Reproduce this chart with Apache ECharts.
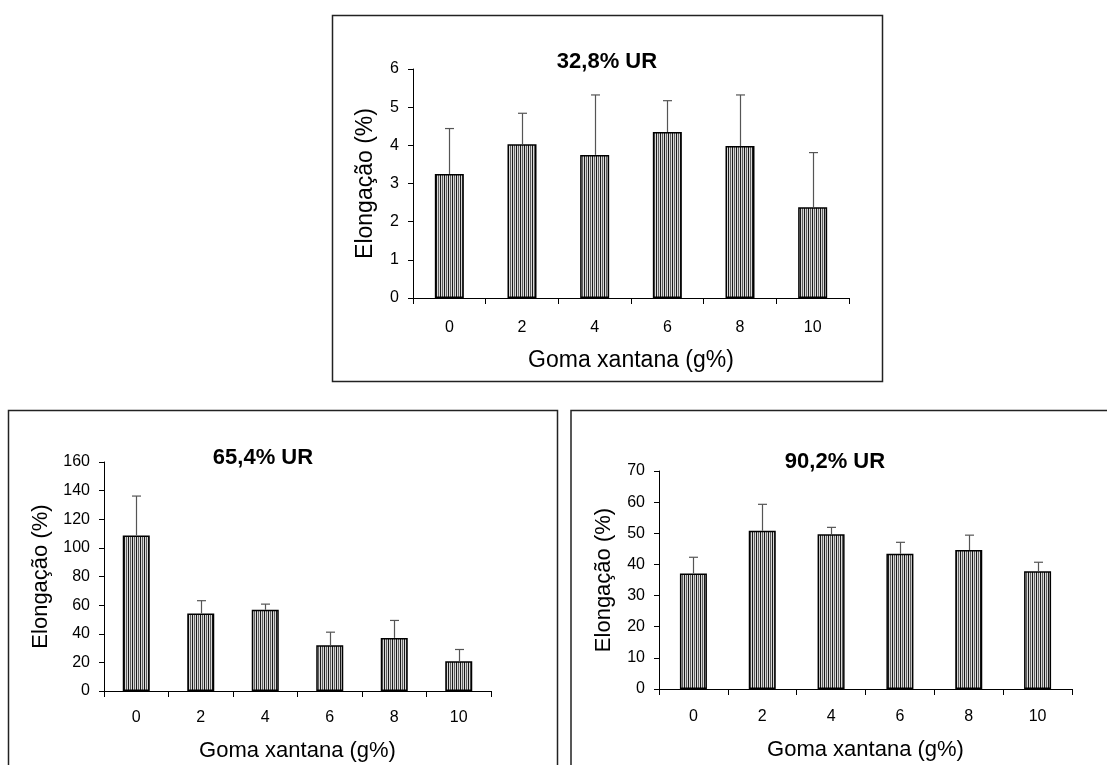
<!DOCTYPE html>
<html>
<head>
<meta charset="utf-8">
<script src="https://cdn.jsdelivr.net/npm/echarts@6/dist/echarts.min.js"></script>
<style>
html,body{margin:0;padding:0;background:#fff;}
#c{width:1107px;height:765px;}
</style>
</head>
<body>
<div id="c"></div>
<script>
// ---- data ----
var categories = ['0', '2', '4', '6', '8', '10'];
var titles = ['32,8% UR', '65,4% UR', '90,2% UR'];
var xName = 'Goma xantana (g%)';
var yName = 'Elongação (%)';
var mean328 = [3.25, 4.03, 3.75, 4.35, 3.98, 2.38];
var sd328   = [1.19, 0.81, 1.57, 0.82, 1.34, 1.43];
var mean654 = [108.6, 54.2, 56.7, 32.0, 37.1, 20.8];
var sd654   = [27.6, 8.9, 4.0, 9.1, 12.2, 8.2];
var mean902 = [37.1, 50.8, 49.7, 43.4, 44.6, 37.8];
var sd902   = [5.2, 8.5, 2.2, 3.7, 4.8, 2.9];
var yMax = [6, 160, 70];
var yStep = [1, 20, 10];

// ---- pattern ----
var pc = document.createElement('canvas');
pc.width = 4; pc.height = 8;
var ctx = pc.getContext('2d');
var cols = ['#1a1a1a', '#d8d8d8', '#5e5e5e', '#d8d8d8'];
for (var i = 0; i < 4; i++) { ctx.fillStyle = cols[i]; ctx.fillRect(i, 0, 1, 8); }
var pattern = { image: pc, repeat: 'repeat' };

var FONT = '"Liberation Sans", Arial, sans-serif';
var means = [mean328, mean654, mean902];
var sds = [sd328, sd654, sd902];

var grids = [
  { left: 413, top: 69, width: 436, height: 229 },
  { left: 104, top: 462, width: 387, height: 229 },
  { left: 659, top: 471, width: 413, height: 218 }
];
var tickFont = [16, 16, 16];
var nameFont = [23, 22, 22];
var yNameGap = [36, 52, 44];
var xNameGap = [51, 49, 50];
var xLabMargin = [22, 19, 20];
var barW = [29, 27, 27];
var titlePos = [[607, 51], [263, 447], [835, 451]];

var xAxes = [], yAxes = [], series = [], titleArr = [];
for (var g = 0; g < 3; g++) {
  xAxes.push({
    type: 'category', gridIndex: g, data: categories,
    name: xName, nameLocation: 'middle', nameGap: xNameGap[g],
    nameTextStyle: { fontFamily: FONT, fontSize: nameFont[g], color: '#000' },
    axisLine: { lineStyle: { color: '#000', width: 1 } },
    axisTick: { show: true, length: 6, lineStyle: { color: '#000' } },
    axisLabel: { fontFamily: FONT, fontSize: tickFont[g], color: '#000', margin: xLabMargin[g] },
    splitLine: { show: false }
  });
  yAxes.push({
    type: 'value', gridIndex: g, min: 0, max: yMax[g], interval: yStep[g],
    name: yName, nameLocation: 'middle', nameGap: yNameGap[g],
    nameTextStyle: { fontFamily: FONT, fontSize: nameFont[g], color: '#000' },
    axisLine: { show: true, lineStyle: { color: '#000', width: 1 } },
    axisTick: { show: true, length: 5, lineStyle: { color: '#000' } },
    axisLabel: { fontFamily: FONT, fontSize: tickFont[g], color: '#000', margin: 14 },
    splitLine: { show: false }
  });
  series.push({
    type: 'bar', xAxisIndex: g, yAxisIndex: g, data: means[g],
    barWidth: barW[g], silent: true,
    itemStyle: { color: pattern, borderColor: '#000', borderWidth: 1.5 }
  });
  var ed = means[g].map(function (m, i) { return [i, m, m + sds[g][i]]; });
  series.push({
    type: 'custom', xAxisIndex: g, yAxisIndex: g, data: ed, z: 5, silent: true,
    renderItem: function (params, api) {
      var p1 = api.coord([api.value(0), api.value(1)]);
      var p2 = api.coord([api.value(0), api.value(2)]);
      var x = Math.round(p1[0]) + 0.5;
      var hw = 4.5;
      return {
        type: 'group',
        children: [
          { type: 'line', shape: { x1: x, y1: p1[1], x2: x, y2: p2[1] }, style: { stroke: '#555', lineWidth: 1.2 } },
          { type: 'line', shape: { x1: x - hw, y1: p2[1], x2: x + hw, y2: p2[1] }, style: { stroke: '#555', lineWidth: 1.2 } }
        ]
      };
    }
  });
  titleArr.push({
    text: titles[g], left: titlePos[g][0], top: titlePos[g][1], textAlign: 'center',
    padding: 0,
    textStyle: { fontFamily: FONT, fontSize: 22, fontWeight: 'bold', color: '#000' }
  });
}

var chart = echarts.init(document.getElementById('c'), null, { renderer: 'canvas' });
chart.setOption({
  animation: false,
  backgroundColor: '#fff',
  title: titleArr,
  grid: grids,
  xAxis: xAxes,
  yAxis: yAxes,
  series: series,
  graphic: [
    { type: 'rect', shape: { x: 332.5, y: 15.5, width: 550, height: 366 }, style: { fill: 'none', stroke: '#222', lineWidth: 1.5 }, z: -1, silent: true },
    { type: 'rect', shape: { x: 8.5, y: 410.5, width: 549, height: 420 }, style: { fill: 'none', stroke: '#222', lineWidth: 1.5 }, z: -1, silent: true },
    { type: 'rect', shape: { x: 571, y: 410.5, width: 600, height: 420 }, style: { fill: 'none', stroke: '#222', lineWidth: 1.5 }, z: -1, silent: true }
  ]
});
</script>
</body>
</html>
